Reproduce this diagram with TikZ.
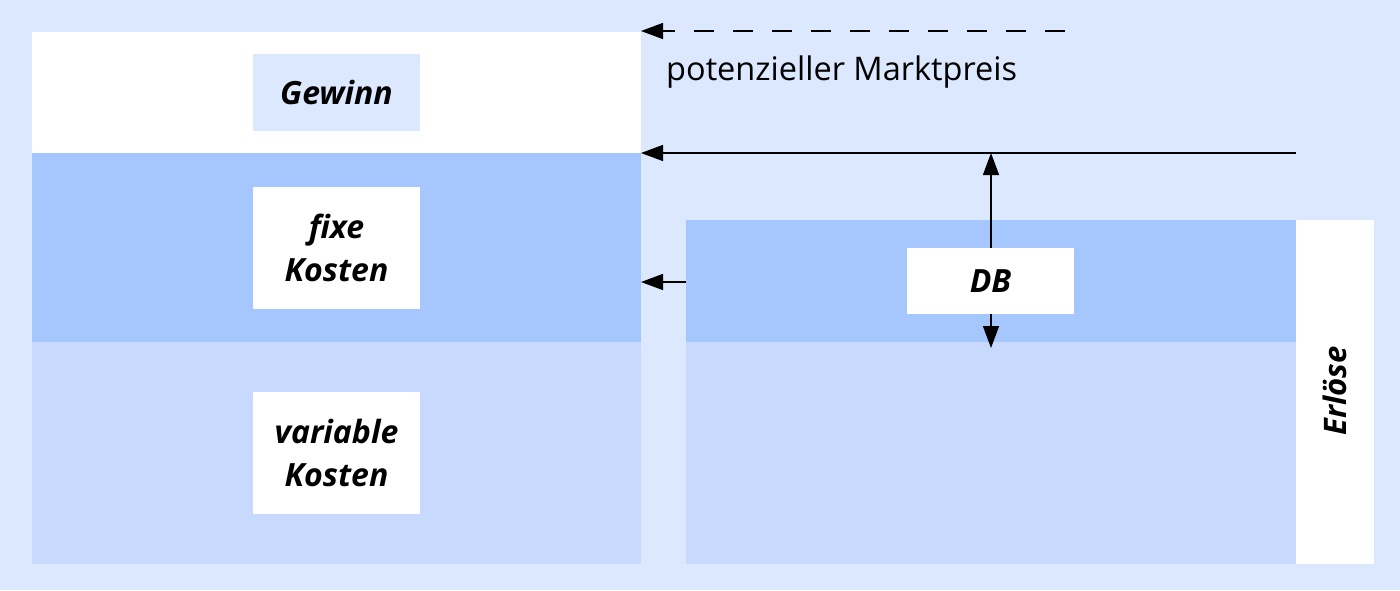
\documentclass[tikz,border=0pt]{standalone}
\usepackage{fontspec}
\setmainfont{Open Sans}
\usetikzlibrary{arrows.meta}
\definecolor{bgblue}{HTML}{DCE8FE}
\definecolor{darkband}{HTML}{A6C6FE}
\definecolor{lightband}{HTML}{C7DAFE}
\tikzset{
  band/.style={draw=none,inner sep=0pt,outer sep=0pt,anchor=north west},
  labelbox/.style={draw=none,fill=white,inner sep=0pt,outer sep=0pt,anchor=north west,
    align=center,font=\fontsize{32}{43}\selectfont\bfseries\itshape},
  conn/.style={line width=1.4pt,-{Triangle[length=22pt,width=16pt]}},
}
\begin{document}
\begin{tikzpicture}[x=1pt,y=-1pt]
\fill[bgblue] (0,0) rectangle (1400,590);
\useasboundingbox (0,0) rectangle (1400,590);
% left column
\node[band,fill=white,minimum width=609pt,minimum height=121pt] (gband) at (32,32) {};
\node[band,fill=darkband,minimum width=609pt,minimum height=189pt] (fband) at (32,153) {};
\node[band,fill=lightband,minimum width=609pt,minimum height=222pt] (vband) at (32,342) {};
\node[labelbox,fill=bgblue,minimum width=167pt,minimum height=77pt] (gewinn) at (253,54) {Gewinn};
\node[labelbox,minimum width=167pt,minimum height=122pt] (fix) at (253,187) {fixe\\Kosten};
\node[labelbox,minimum width=167pt,minimum height=122pt] (var) at (253,392) {variable\\Kosten};
% right column
\node[band,fill=darkband,minimum width=610pt,minimum height=122pt] (dbband) at (686,220) {};
\node[band,fill=lightband,minimum width=610pt,minimum height=222pt] (rvband) at (686,342) {};
\node[band,fill=white,minimum width=78pt,minimum height=344pt] (erl) at (1296,220) {};
\node[font=\fontsize{31}{36}\selectfont\bfseries\itshape,rotate=90,inner sep=0pt] (erltext) at (1335,391) {Erlöse};
\node[labelbox,minimum width=167pt,minimum height=66pt] (db) at (907,248) {DB};
% text
\node[anchor=base west,inner sep=0pt,font=\fontsize{32.5}{38}\selectfont] (mp) at (666,80) {potenzieller Marktpreis};
% connectors
\coordinate (dashstart) at (1065,31);
\coordinate (dashend) at (641,31);
\coordinate (solidstart) at (1296,153);
\coordinate (solidend) at (641,153);
\coordinate (dbtop) at (991,153);
\coordinate (dbbottom) at (991,348);
\coordinate (fixend) at (641,282);
\draw[conn,dash pattern=on 20pt off 19pt] (dashstart) -- (dashend);
\draw[conn] (solidstart) -- (solidend);
\draw[conn] (db.north -| dbtop) -- (dbtop);
\draw[conn] (db.south -| dbbottom) -- (dbbottom);
\draw[conn] (dbband.west |- fixend) -- (fixend);
\end{tikzpicture}
\end{document}
